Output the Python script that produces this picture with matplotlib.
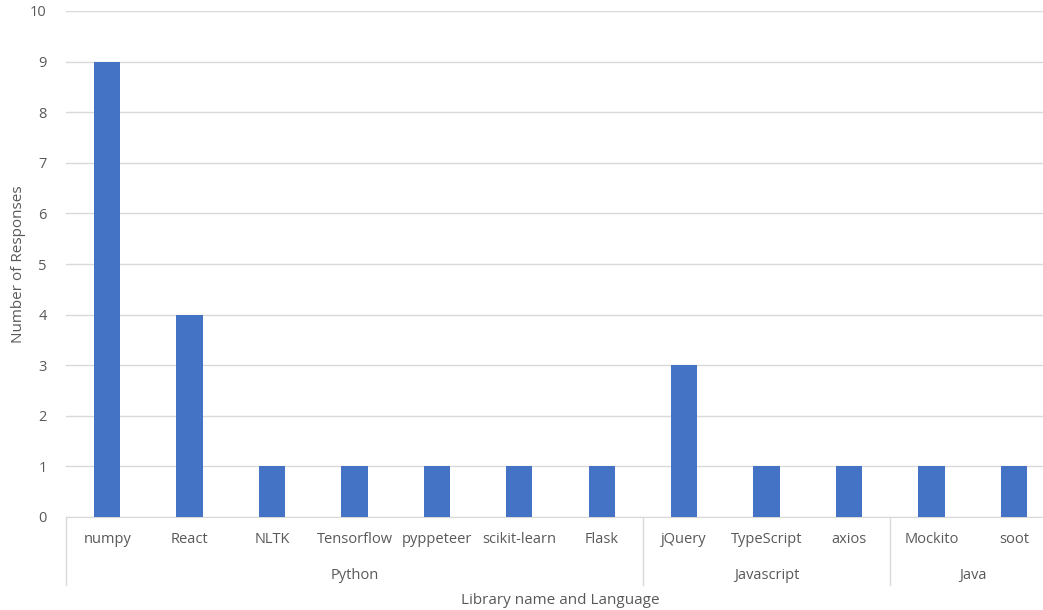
import matplotlib.pyplot as plt
import numpy as np

# responses per library, grouped by language
libraries = ["numpy", "React", "NLTK", "Tensorflow", "pyppeteer", "scikit-learn", "Flask",
             "jQuery", "TypeScript", "axios", "Mockito", "soot"]
responses = [9, 4, 1, 1, 1, 1, 1, 3, 1, 1, 1, 1]
languages = ["Python", "Javascript", "Java"]
lang_counts = [7, 3, 2]

plt.rcParams['font.family'] = ['Open Sans', 'DejaVu Sans']
text_col = "#595959"
line_col = "#d9d9d9"

fig = plt.figure(figsize=(10.43, 6.10), dpi=100)
ax = fig.add_axes([66 / 1043, 1 - 517 / 610, 989 / 1043, 506 / 610])

x = np.arange(len(libraries))
ax.bar(x, responses, width=0.32, color="#4472c4", zorder=3)

ax.set_xlim(-0.5, len(libraries) - 0.5)
ax.set_ylim(0, 10)
ax.set_yticks(range(0, 11))
ax.grid(axis="y", color=line_col, linewidth=1, zorder=0)
ax.tick_params(axis="y", length=0, pad=14, labelsize=10.5, labelcolor=text_col)
ax.set_xticks([])
for s in ["top", "right", "left"]:
    ax.spines[s].set_visible(False)
ax.spines["bottom"].set_color(line_col)

# two-level category axis
tr = ax.get_xaxis_transform()
for i, name in enumerate(libraries):
    ax.text(i, -0.045, name, transform=tr, ha="center", va="center",
            fontsize=10.5, color=text_col)

start = 0
bounds = [-0.5]
for lang, n in zip(languages, lang_counts):
    ax.text(start + (n - 1) / 2, -0.115, lang, transform=tr, ha="center", va="center",
            fontsize=10.5, color=text_col)
    start += n
    bounds.append(start - 0.5)
for b in bounds:
    ax.plot([b, b], [0, -0.134], transform=tr, color=line_col, linewidth=1, clip_on=False)

ax.set_ylabel("Number of Responses", fontsize=11, color=text_col, labelpad=3)
fig.text(560 / 1043, 1 - 600 / 610, "Library name and Language", ha="center", va="center",
         fontsize=11, color=text_col)

fig.savefig("out.png", dpi=100)
